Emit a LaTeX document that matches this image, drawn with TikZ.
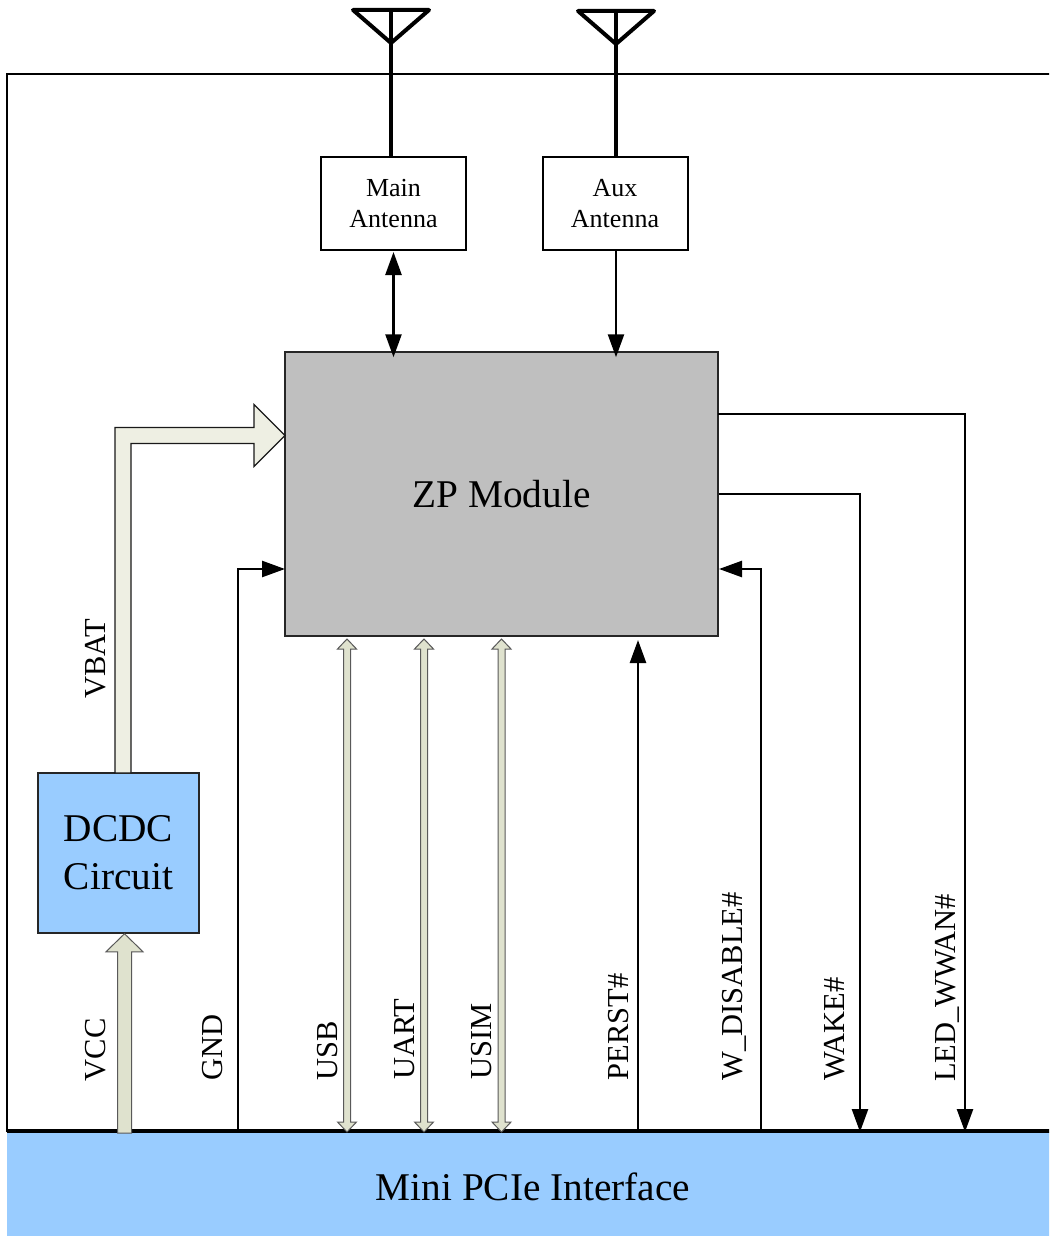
\documentclass[tikz,border=0pt]{standalone}
\usepackage{fontspec}
\setmainfont{Liberation Serif}
\usetikzlibrary{arrows.meta,positioning,calc}
\definecolor{blockblue}{HTML}{99CCFF}
\definecolor{modgray}{HTML}{BFBFBF}
\definecolor{busfill}{HTML}{DFE2CE}
\definecolor{vbatfill}{HTML}{EEEFE3}

\begin{document}
\begin{tikzpicture}[x=1pt,y=-1pt,
  box/.style={draw, line width=2pt, fill=white, minimum width=145pt, minimum height=93pt,
    inner sep=0pt, align=center, font=\fontsize{26}{31}\selectfont},
  sig/.style={draw, line width=2.5pt, -{Triangle[length=23pt,width=16pt]}},
  ant/.style={draw, line width=4pt, line join=round, line cap=round},
  lbl/.style={rotate=90, anchor=base west, inner sep=0pt, font=\fontsize{30.5}{36}\selectfont},
  bus/.style={draw=black!65, line width=1pt, fill=busfill, line join=miter,
    to path={let \p1=(\tikztostart), \p2=(\tikztotarget) in
      -- (\x1+9.5pt,\y1+10pt) -- (\x1+3.5pt,\y1+10pt) -- (\x1+3.5pt,\y2-10pt)
      -- (\x1+9.5pt,\y2-10pt) -- (\x2,\y2) -- (\x1-9.5pt,\y2-10pt)
      -- (\x1-3.5pt,\y2-10pt) -- (\x1-3.5pt,\y1+10pt) -- (\x1-9.5pt,\y1+10pt) -- cycle}},
  vccbus/.style={draw=black!65, line width=1pt, fill=busfill,
    to path={let \p1=(\tikztostart), \p2=(\tikztotarget) in
      -- (\x1+7pt,\y1) -- (\x1+7pt,\y2-18pt) -- (\x1+18.5pt,\y2-18pt) -- (\x2,\y2)
      -- (\x1-18.5pt,\y2-18pt) -- (\x1-7pt,\y2-18pt) -- (\x1-7pt,\y1) -- cycle}},
  vbatbus/.style={draw=black!90, line width=1.2pt, fill=vbatfill,
    to path={let \p1=(\tikztostart), \p2=(\tikztotarget) in
      -- (\x1+8pt,\y1) -- (\x1+8pt,\y2-8pt) -- (\x2-31pt,\y2-8pt) -- (\x2-31pt,\y2-31pt)
      -- (\x2,\y2) -- (\x2-31pt,\y2+31pt) -- (\x2-31pt,\y2+8pt) -- (\x1-8pt,\y2+8pt)
      -- (\x1-8pt,\y1) -- cycle}}]
\useasboundingbox (0,0) rectangle (1049,1236);
\clip (0,0) rectangle (1049,1236);

% blocks
\node[fill=blockblue, minimum width=1052pt, minimum height=110pt, inner sep=0pt,
  font=\fontsize{39.3}{47}\selectfont] (pcie) at (533,1186.5) {Mini PCIe Interface};
\draw[line width=2.5pt] (7,1132) -- (7,74) -- (1057,74);
\node[box] (main) at (393.5,203.5) {Main\\Antenna};
\node[box, right=75.5pt of main, xshift=-1pt] (aux) {Aux\\Antenna};
\node[draw=black!85, line width=1.5pt, fill=modgray, minimum width=433pt, minimum height=284pt,
  text depth=0pt, font=\fontsize{39.3}{47}\selectfont] (zp) at (501.5,494) {ZP Module};
\node[draw=black!85, line width=1.5pt, fill=blockblue, minimum width=161pt, minimum height=160pt,
  inner sep=0pt, align=center, font=\fontsize{39.3}{48}\selectfont] (dcdc) at (118.5,853) {DCDC\\Circuit};
\draw[line width=4pt] (pcie.north west) -- (pcie.north east);

% antennas
\coordinate (mainant) at (391,43);
\coordinate (auxant) at (616,44);
\foreach \a in {mainant,auxant}{
  \draw[ant] ($(\a)+(-38,-33)$) -- ($(\a)+(38,-33)$) -- (\a) -- cycle;
}
\draw[line width=4pt] (mainant |- main.north) -- ($(mainant)+(0,-33)$);
\draw[line width=4pt] (auxant |- aux.north) -- ($(auxant)+(0,-33)$);
\draw[line width=2.5pt, shorten <=1pt, shorten >=-6pt, {Triangle[length=23pt,width=16pt]}-{Triangle[length=23pt,width=16pt]}]
  (main.south) -- (main.south |- zp.north);
\draw[line width=2.5pt, shorten >=-6pt, -{Triangle[length=23pt,width=16pt]}] (auxant |- aux.south) -- (auxant |- zp.north);

% power
\coordinate (vbatbot) at (123,773);
\coordinate (vbattip) at (285,435.5);
\coordinate (vccbot) at (124.5,1133);
\draw[vbatbus] (vbatbot) to (vbattip);
\draw[vccbus] (vccbot) to (vccbot |- dcdc.south);
\coordinate (gndin) at (285,569);
\draw[sig] (238,1132) |- (gndin);

% buses
\foreach \x/\nm in {347/usb,424/uart,501.5/usim}{
  \coordinate (\nm bot) at (\x,1132);
  \coordinate (\nm top) at (\x,639);
  \draw[bus] (\nm bot) to (\nm top);
}

% control lines
\coordinate (perstin) at (638,640);
\coordinate (wdisin) at (719,569);
\coordinate (ledout) at (718,414);
\draw[sig] (perstin |- pcie.north) -- (perstin);
\draw[sig] (761,1132) |- (wdisin);
\draw[sig] (zp.east) -| (860,1132);
\draw[sig] (ledout) -| (965,1132);

% labels
\node[lbl] (vbat) at (105,699) {VBAT};
\node[lbl] (vcc) at (105,1081.5) {VCC};
\node[lbl] (gnd) at (222,1081) {GND};
\node[lbl] (usb) at (337,1081) {USB};
\node[lbl] (uart) at (414,1080) {UART};
\node[lbl] (usim) at (491.5,1080) {USIM};
\node[lbl] (perst) at (628,1080.5) {PERST\#};
\node[lbl] (wdis) at (742,1080.5) {W\_DISABLE\#};
\node[lbl] (wake) at (844,1081) {WAKE\#};
\node[lbl] (led) at (955,1082) {LED\_WWAN\#};
\end{tikzpicture}
\end{document}
